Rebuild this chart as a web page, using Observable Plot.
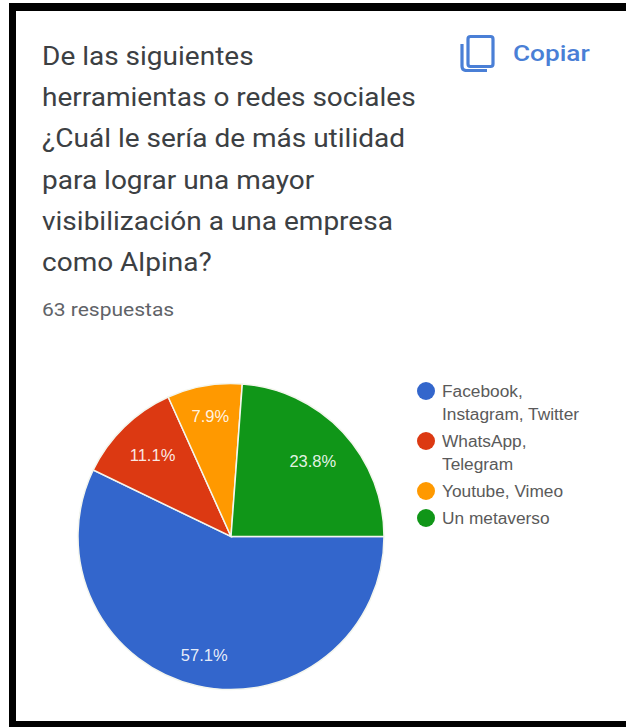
<!DOCTYPE html>
<html lang="es">
<head>
<meta charset="utf-8">
<script src="https://cdn.jsdelivr.net/npm/d3@7"></script>
<script src="https://cdn.jsdelivr.net/npm/@observablehq/plot@0.6"></script>
<style>
  html, body { margin: 0; padding: 0; background: #fff; }
  #page { position: relative; width: 626px; height: 727px; overflow: hidden; font-family: Roboto, sans-serif; }
  #frame { position: absolute; left: 9px; top: 3px; width: 617px; height: 724px; box-sizing: border-box;
           border: solid #000; border-width: 8px 0 6px 7px; pointer-events: none; }
  #question { position: absolute; left: 42px; top: 36px; margin: 0; font-size: 25px; font-weight: 400;
              line-height: 41.2px; color: #3c4043; white-space: pre;
              transform: scaleX(1.12); transform-origin: left top; }
  #count { position: absolute; left: 42px; top: 300px; font-size: 17.5px; line-height: 21px; color: #5f6368;
           transform: scaleX(1.2); transform-origin: left top; }
  #copy { position: absolute; left: 460px; top: 34px; display: flex; align-items: center; gap: 17px;
          color: #4a7fd6; font-size: 22px; font-weight: 500; }
  #copy span { display: inline-block; transform: scaleX(1.19); transform-origin: left center; }
  #chart { position: absolute; left: 0; top: 340px; }
  #chart svg { display: block; }
  #legend { position: absolute; left: 417px; top: 380px; font-family: "Liberation Sans", Arial, sans-serif;
            font-size: 16px; line-height: 23px; color: #5a5a5a; }
  .entry { display: flex; align-items: flex-start; gap: 7px; margin-bottom: 4px; }
  .entry i { flex: none; width: 18px; height: 18px; border-radius: 50%; margin-top: 2px; }
  .entry span { white-space: pre; transform: scaleX(1.08); transform-origin: left top; }
</style>
</head>
<body>
<div id="page">
  <div id="frame"></div>
  <h1 id="question"></h1>
  <div id="count"></div>
  <div id="copy">
    <svg width="36" height="38" viewBox="0 0 36 38" fill="none" stroke="#4a7fd6" stroke-width="3.2">
      <rect x="8" y="2.5" width="25" height="30" rx="2.5"/>
      <path d="M2 10 V32 Q2 36.5 6.5 36.5 H27"/>
    </svg>
    <span id="copy-label"></span>
  </div>
  <div id="chart"></div>
  <div id="legend"></div>
</div>
<script>
// Survey question and answers
const questionLines = [
  "De las siguientes",
  "herramientas o redes sociales",
  "¿Cuál le sería de más utilidad",
  "para lograr una mayor",
  "visibilización a una empresa",
  "como Alpina?"
];
const responseCount = "63 respuestas";
const copyLabel = "Copiar";

const categories = ["Facebook,\nInstagram, Twitter", "WhatsApp,\nTelegram", "Youtube, Vimeo", "Un metaverso"];
const shares = [57.1, 11.1, 7.9, 23.8];
const sliceColors = ["#3366cc", "#dc3912", "#ff9900", "#109618"];

// How far out each percentage sits, as a fraction of the radius
const labelOffsets = [0.8, 0.74, 0.8, 0.725];

// Slices run clockwise, starting from three o'clock
const pieLayout = d3.pie().sort(null).startAngle(Math.PI / 2).endAngle(Math.PI * 2.5)(shares);

const slices = categories.map((category, i) => {
  const mid = (pieLayout[i].startAngle + pieLayout[i].endAngle) / 2;
  return {
    category,
    share: shares[i],
    layout: pieLayout[i],
    labelX: labelOffsets[i] * Math.sin(mid),
    labelY: labelOffsets[i] * Math.cos(mid)
  };
});

// Replaces the dot at the pie centre with one arc per slice, sized by the x scale
function renderSlices(index, scales, values) {
  const radius = scales.x(1) - scales.x(0);
  const arc = d3.arc().innerRadius(0).outerRadius(radius);
  const g = d3.create("svg:g")
    .attr("transform", `translate(${scales.x(0)},${scales.y(0)})`);
  g.selectAll("path")
    .data(index)
    .join("path")
    .attr("d", (i) => arc(slices[i].layout))
    .attr("fill", (i) => values.fill[i])
    .attr("stroke", "#f4f6ee")
    .attr("stroke-width", 1.5);
  return g.node();
}

const chart = Plot.plot({
  width: 626,
  height: 380,
  marginLeft: 78,
  marginRight: 242,
  marginTop: 44,
  marginBottom: 31,
  x: {domain: [-1, 1], axis: null},
  y: {domain: [-1, 1], axis: null},
  color: {domain: categories, range: sliceColors},
  style: {background: "transparent"},
  marks: [
    Plot.dot(slices, {x: () => 0, y: () => 0, fill: "category", render: renderSlices}),
    Plot.text(slices, {
      x: "labelX",
      y: "labelY",
      text: (d) => `${d.share}%`,
      fill: "#fff",
      fillOpacity: 0.9,
      fontSize: 16.5,
      fontFamily: "Liberation Sans, Arial, sans-serif"
    })
  ]
});

document.getElementById("chart").append(chart);
document.getElementById("question").textContent = questionLines.join("\n");
document.getElementById("count").textContent = responseCount;
document.getElementById("copy-label").textContent = copyLabel;

// Key beside the pie, coloured from the chart's own colour scale
const colorScale = chart.scale("color");
const legend = d3.select("#legend");
categories.forEach((category) => {
  const entry = legend.append("div").attr("class", "entry");
  entry.append("i").style("background", colorScale.apply(category));
  entry.append("span").text(category);
});
</script>
</body>
</html>
